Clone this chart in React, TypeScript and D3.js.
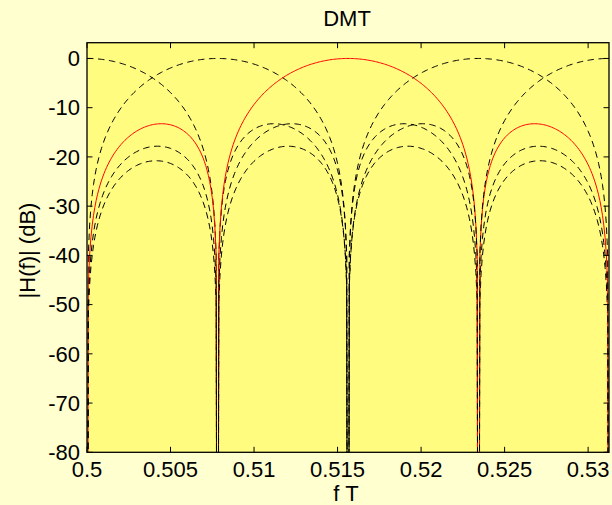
import React from "react";
import * as d3 from "d3";

// ---- data ----
const N = 128; // DMT block length (tones spaced 1/N in fT)
const carriers = [64, 65, 66, 67, 68]; // tone indices drawn
const highlighted = 66; // tone drawn in red
const xTicks = [0.5, 0.505, 0.51, 0.515, 0.52, 0.525, 0.53];
const xTickLabels = ["0.5", "0.505", "0.51", "0.515", "0.52", "0.525", "0.53"];
const yTicks = [0, -10, -20, -30, -40, -50, -60, -70, -80];
const yTickLabels = ["0", "-10", "-20", "-30", "-40", "-50", "-60", "-70", "-80"];
const xDomain = [0.5, 0.53125];
const yDomain = [-80, 3.2];
const samplesPerBin = 100;

const W = 612;
const H = 505;
const M = { left: 87, right: 609, top: 42.7, bottom: 452.3 };

function responseDb(f: number, k: number): number {
  const d = f - k / N;
  const den = N * Math.sin(Math.PI * d);
  let v: number;
  if (Math.abs(den) < 1e-12) v = 1;
  else v = Math.abs(Math.sin(Math.PI * N * d) / den);
  const db = 20 * Math.log10(v);
  return Math.max(db, -200);
}

export default function App() {
  const x = d3.scaleLinear().domain(xDomain).range([M.left, M.right]);
  const y = d3.scaleLinear().domain(yDomain).range([M.bottom, M.top]);
  const nSamples = Math.round((xDomain[1] - xDomain[0]) * N * samplesPerBin);
  const freqs = d3.range(0, nSamples + 1).map((i) => xDomain[0] + i / (N * samplesPerBin));

  const font = "'Liberation Sans', Arial, sans-serif";
  const tickLen = 5.5;
  const fs = 22;

  return (
    <svg
      width={W}
      height={H}
      style={{ position: "fixed", left: 0, top: 0, display: "block" }}
      fontFamily={font}
    >
      <rect x={0} y={0} width={W} height={H} fill="#ffffd0" />
      <defs>
        <clipPath id="plotclip">
          <rect x={M.left} y={M.top} width={M.right - M.left} height={M.bottom - M.top} />
        </clipPath>
      </defs>
      <rect
        x={M.left}
        y={M.top}
        width={M.right - M.left}
        height={M.bottom - M.top}
        fill="#fffc80"
      />
      <g clipPath="url(#plotclip)">
        {carriers.map((k) => {
          const l = d3
            .line<number>()
            .x((f) => x(f))
            .y((f) => y(responseDb(f, k)));
          const isRed = k === highlighted;
          return (
            <path
              key={k}
              d={l(freqs) || ""}
              fill="none"
              stroke={isRed ? "#ff0000" : "#000000"}
              strokeWidth={1}
              strokeDasharray={isRed ? undefined : "6.5,4.5"}
            />
          );
        })}
      </g>
      {/* ticks */}
      {xTicks.map((t, i) => (
        <g key={"xt" + i}>
          <line x1={x(t)} x2={x(t)} y1={M.bottom} y2={M.bottom - tickLen} stroke="#000" strokeWidth={1} />
          <line x1={x(t)} x2={x(t)} y1={M.top} y2={M.top + tickLen} stroke="#000" strokeWidth={1} />
          <text x={x(t)} y={477} textAnchor="middle" fontSize={fs} fill="#000">
            {xTickLabels[i]}
          </text>
        </g>
      ))}
      {yTicks.map((t, i) => (
        <g key={"yt" + i}>
          <line x1={M.left} x2={M.left + tickLen} y1={y(t)} y2={y(t)} stroke="#000" strokeWidth={1} />
          <line x1={M.right} x2={M.right - tickLen} y1={y(t)} y2={y(t)} stroke="#000" strokeWidth={1} />
          <text x={80} y={y(t) + 7.8} textAnchor="end" fontSize={fs} fill="#000">
            {yTickLabels[i]}
          </text>
        </g>
      ))}
      <rect
        x={M.left}
        y={M.top}
        width={M.right - M.left}
        height={M.bottom - M.top}
        fill="none"
        stroke="#000"
        strokeWidth={1.3}
      />
      <text x={(M.left + M.right) / 2 - 1} y={26} textAnchor="middle" fontSize={fs} fill="#000">
        DMT
      </text>
      <text x={(M.left + M.right) / 2 - 2} y={501} textAnchor="middle" fontSize={fs} fill="#000">
        f T
      </text>
      <text
        transform={`translate(35, ${(M.top + M.bottom) / 2 + 3}) rotate(-90)`}
        textAnchor="middle"
        fontSize={fs}
        fill="#000"
      >
        |H(f)| (dB)
      </text>
    </svg>
  );
}
